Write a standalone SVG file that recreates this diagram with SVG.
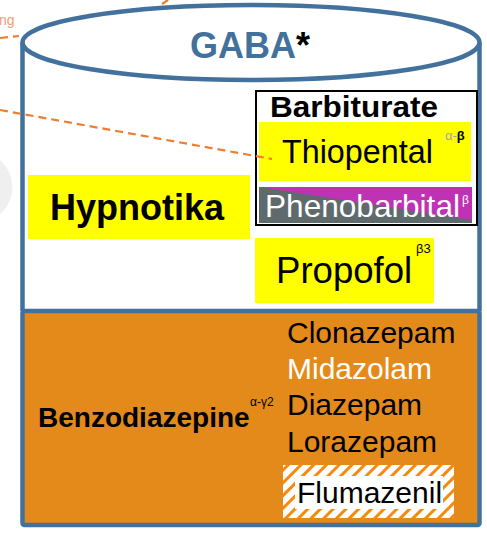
<svg xmlns="http://www.w3.org/2000/svg" width="487" height="534" viewBox="0 0 487 534">
<defs>
<style>
.t{font-family:"Liberation Sans",Arial,sans-serif;}
.b{font-weight:bold;}
.cyl{stroke:#41719C;stroke-width:4.5;}
.dash{stroke:#ED7D31;stroke-width:2.2;stroke-dasharray:8 5;fill:none;}
.yel{fill:#FFFF00;}
</style>
<pattern id="stripes" patternUnits="userSpaceOnUse" width="9" height="9" patternTransform="rotate(45)">
<rect x="0" y="0" width="9" height="9" fill="#FFFFFF"/>
<rect x="0" y="0" width="3" height="9" fill="#F7890C"/>
</pattern>
</defs>
<rect x="0" y="0" width="487" height="534" fill="#FFFFFF"/>
<circle cx="-23" cy="187" r="35.5" fill="#EFEFEF"/>
<text class="t" x="-1" y="25" font-size="14" fill="#F0A070">ng</text>

<g id="cylinder">
<rect x="22.5" y="43" width="457" height="268" fill="#FFFFFF"/>
<line class="cyl" x1="22.5" y1="43" x2="22.5" y2="311"/>
<line class="cyl" x1="479.5" y1="43" x2="479.5" y2="311"/>
<ellipse class="cyl" cx="251" cy="42.5" rx="228.5" ry="37.5" fill="#FFFFFF"/>
<text class="t b" x="190" y="58" font-size="36" fill="#41719C">GABA<tspan fill="#000000">*</tspan></text>
</g>

<g id="benzodiazepine">
<rect class="cyl" x="22.5" y="311" width="457" height="214" rx="2" fill="#E48A1B"/>
<text class="t b" x="38" y="427" font-size="28" fill="#000000">Benzodiazepine</text>
<text class="t" x="250" y="406" font-size="12" fill="#000000">α-γ2</text>
<text class="t" x="287" y="343" font-size="30" fill="#000000">Clonazepam</text>
<text class="t" x="287" y="379" font-size="30" fill="#FFFFFF">Midazolam</text>
<text class="t" x="287" y="415" font-size="30" fill="#000000">Diazepam</text>
<text class="t" x="287" y="452" font-size="30" fill="#000000">Lorazepam</text>
</g>

<g id="flumazenil">
<rect x="283" y="465" width="171" height="53" fill="url(#stripes)"/>
<rect x="295" y="476" width="148" height="33" fill="#FFFFFF"/>
<text class="t" x="297" y="503" font-size="30" fill="#000000">Flumazenil</text>
</g>

<g id="hypnotika">
<rect class="yel" x="28" y="175" width="222" height="64"/>
<text class="t b" x="50" y="220" font-size="36" fill="#000000">Hypnotika</text>
</g>

<g id="barbiturate">
<rect x="256" y="91" width="221" height="134" fill="#FFFFFF" stroke="#000000" stroke-width="2"/>
<text class="t b" x="270" y="117" font-size="29" textLength="168" lengthAdjust="spacingAndGlyphs" fill="#000000">Barbiturate</text>
</g>

<g id="thiopental">
<rect class="yel" x="259" y="122" width="212" height="59"/>
<text class="t" x="282" y="163" font-size="32.3" fill="#000000">Thiopental</text>
<text class="t" x="445" y="140" font-size="13" fill="#A0A0C0">α-<tspan fill="#000000" font-weight="bold">β</tspan></text>
</g>

<g id="phenobarbital">
<rect x="259" y="187" width="213" height="36" fill="#BF31B5"/>
<polygon points="259,187 472,220 472,223 259,223" fill="#5F6A6D"/>
<text class="t" x="265" y="217" font-size="31.6" fill="#FFFFFF">Phenobarbital</text>
<text class="t" x="462" y="204" font-size="12" fill="#FFFFFF">β</text>
</g>

<g id="propofol">
<rect class="yel" x="255" y="238" width="179" height="65"/>
<text class="t" x="276" y="283" font-size="36.6" fill="#000000">Propofol</text>
<text class="t" x="416" y="253" font-size="13" fill="#000000">β3</text>
</g>

<g id="connectors">
<line class="dash" x1="0" y1="110" x2="272" y2="159"/>
<line class="dash" x1="0" y1="38" x2="19" y2="36"/>
<line class="dash" x1="162" y1="4" x2="168" y2="0" stroke-dasharray="none"/>
</g>
</svg>
